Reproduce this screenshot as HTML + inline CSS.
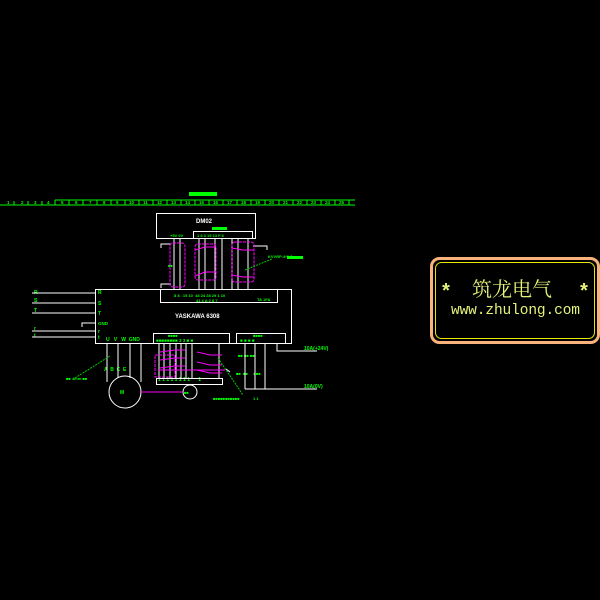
<!DOCTYPE html>
<html><head><meta charset="utf-8"><style>
html,body{margin:0;padding:0;background:#000;width:600px;height:600px;overflow:hidden}
svg{display:block}
text{font-family:"Liberation Sans",sans-serif;font-weight:bold}
</style></head><body>
<svg width="600" height="600" viewBox="0 0 600 600" xmlns="http://www.w3.org/2000/svg">
<rect width="600" height="600" fill="#000"/>
<g stroke="#00ff00" stroke-width="1" fill="none">
<line x1="0" y1="205" x2="355" y2="205"/>
<line x1="55" y1="200" x2="355" y2="200"/>
<line x1="55" y1="200" x2="55" y2="205"/>
<line x1="14" y1="201" x2="14" y2="205"/><line x1="28" y1="201" x2="28" y2="205"/><line x1="42" y1="201" x2="42" y2="205"/>
</g>
<g stroke="#00ff00" stroke-width="1">
<line x1="69" y1="200" x2="69" y2="205"/><line x1="83" y1="200" x2="83" y2="205"/><line x1="97" y1="200" x2="97" y2="205"/><line x1="111" y1="200" x2="111" y2="205"/><line x1="125" y1="200" x2="125" y2="205"/><line x1="139" y1="200" x2="139" y2="205"/><line x1="153" y1="200" x2="153" y2="205"/><line x1="167" y1="200" x2="167" y2="205"/><line x1="181" y1="200" x2="181" y2="205"/><line x1="195" y1="200" x2="195" y2="205"/><line x1="209" y1="200" x2="209" y2="205"/><line x1="223" y1="200" x2="223" y2="205"/><line x1="237" y1="200" x2="237" y2="205"/><line x1="251" y1="200" x2="251" y2="205"/><line x1="265" y1="200" x2="265" y2="205"/><line x1="279" y1="200" x2="279" y2="205"/><line x1="293" y1="200" x2="293" y2="205"/><line x1="307" y1="200" x2="307" y2="205"/><line x1="321" y1="200" x2="321" y2="205"/><line x1="335" y1="200" x2="335" y2="205"/><line x1="349" y1="200" x2="349" y2="205"/>
</g>
<g fill="#00ff00" font-size="4.5">
<text x="7" y="204">1</text><text x="21" y="204">2</text><text x="34" y="204">3</text><text x="47" y="204">4</text>
<text x="61" y="204">5</text><text x="75" y="204">6</text><text x="89" y="204">7</text><text x="103" y="204">8</text><text x="116" y="204">9</text><text x="129" y="204">10</text><text x="143" y="204">11</text><text x="157" y="204">12</text><text x="171" y="204">13</text><text x="185" y="204">14</text><text x="199" y="204">15</text><text x="213" y="204">16</text><text x="227" y="204">17</text><text x="241" y="204">18</text><text x="255" y="204">19</text><text x="269" y="204">20</text><text x="283" y="204">21</text><text x="297" y="204">22</text><text x="311" y="204">23</text><text x="325" y="204">24</text><text x="339" y="204">25</text>
<rect x="189" y="192" width="28" height="4"/>
<text x="268" y="258" font-size="4">KVVRP-4*0.5mm</text>
<rect x="287" y="256" width="16" height="3"/>
<text x="170" y="237" font-size="4">+5V 0V</text>
<rect x="212" y="227" width="15" height="3"/>
<text x="197" y="237" font-size="4">1 8 3 15 13 F 6</text>
<text x="168" y="267" font-size="4">■■</text>
<text x="174" y="297" font-size="4">8 8 &#160;&#160;15 10 &#160;48 24 28 29 1 10</text>
<text x="196" y="302" font-size="4">41 4 A 2 8 7</text>
<text x="257" y="301" font-size="4">TA 1FA</text>
<text x="98" y="294" font-size="5">R</text><text x="98" y="305" font-size="5">S</text><text x="98" y="315" font-size="5">T</text><text x="98" y="325" font-size="4.5">GND</text><text x="98" y="333" font-size="5">r</text><text x="98" y="339" font-size="5">t</text>
<text x="34" y="294" font-size="5">R</text><text x="34" y="302" font-size="5">S</text><text x="34" y="312" font-size="5">T</text><text x="34" y="330" font-size="5">r</text><text x="34" y="337" font-size="5">t</text>
<text x="106" y="341" font-size="5">U &#160;&#160;V &#160;&#160;W &#160;GND</text>
<text x="156" y="342" font-size="4.5">■■■■■■■■ 3 3 ■ ■</text>
<text x="168" y="337" font-size="4">■■■■</text>
<text x="240" y="342" font-size="4.5">■ ■ ■ ■</text>
<text x="253" y="337" font-size="4">■■■■</text>
<text x="104" y="371" font-size="5">A &#160;B &#160;C &#160;E</text>
<text x="66" y="380" font-size="4">■■ 4mm ■■</text>
<text x="120" y="394" font-size="5">M</text>
<text x="184" y="394" font-size="4">■■</text>
<text x="158" y="381" font-size="5">1 1 1 1 1 1 1 1 &#160;&#160;&#160;&#160;&#160;1</text>
<text x="213" y="400" font-size="4">■■■■■■■■■■■</text>
<text x="238" y="357" font-size="4">■■ ■■ ■■</text>
<text x="236" y="375" font-size="4">■■ &#160;■■ &#160;&#160;&#160;&#160;■■■</text>
<text x="304" y="350" font-size="5">10A(+24V)</text>
<text x="304" y="388" font-size="5">10A(0V)</text>
<text x="253" y="400" font-size="4">1 1</text>
</g>
<text x="196" y="223" font-size="6" fill="#fff">DM02</text>
<text x="175" y="318" font-size="6" fill="#fff">YASKAWA 6308</text>
<g stroke="#fff" stroke-width="1" fill="none">
<rect x="156.5" y="213.5" width="99" height="25"/>
<rect x="193.5" y="231.5" width="59" height="7"/>
<rect x="95.5" y="289.5" width="196" height="54"/>
<rect x="160.5" y="289.5" width="117" height="13"/>
<rect x="153.5" y="333.5" width="76" height="10"/>
<rect x="236.5" y="333.5" width="49" height="10"/>
<line x1="32" y1="293" x2="95" y2="293"/><line x1="32" y1="303" x2="95" y2="303"/><line x1="32" y1="313" x2="95" y2="313"/><line x1="32" y1="331" x2="95" y2="331"/><line x1="32" y1="337" x2="95" y2="337"/>
<polyline points="95,323 82,323 82,327"/>
<line x1="174" y1="239" x2="174" y2="289"/><line x1="180" y1="239" x2="180" y2="289"/>
<line x1="199" y1="239" x2="199" y2="289"/><line x1="205" y1="239" x2="205" y2="289"/><line x1="215" y1="239" x2="215" y2="289"/><line x1="222" y1="239" x2="222" y2="289"/><line x1="232" y1="239" x2="232" y2="289"/><line x1="238" y1="239" x2="238" y2="289"/><line x1="248" y1="239" x2="248" y2="289"/>
<polyline points="171,244 161,244 161,248"/><polyline points="253,246 267,246 267,250"/><polyline points="171,284 161,284 161,288"/>
<line x1="107" y1="343" x2="107" y2="382"/><line x1="118" y1="343" x2="118" y2="378"/><line x1="130" y1="343" x2="130" y2="378"/><line x1="141" y1="343" x2="141" y2="382"/>
<circle cx="125" cy="392" r="16"/>
<circle cx="190" cy="392" r="7"/>
<rect x="156.5" y="378.5" width="66" height="6"/>
<line x1="159" y1="343" x2="159" y2="378"/><line x1="164" y1="343" x2="164" y2="378"/><line x1="170" y1="343" x2="170" y2="378"/><line x1="176" y1="343" x2="176" y2="378"/><line x1="181" y1="343" x2="181" y2="378"/><line x1="186" y1="343" x2="186" y2="378"/><line x1="192" y1="343" x2="192" y2="378"/><line x1="219" y1="343" x2="219" y2="378"/>
<polyline points="277,343 277,351 317,351"/>
<line x1="245" y1="343" x2="245" y2="389"/><line x1="255" y1="343" x2="255" y2="389"/><line x1="265" y1="343" x2="265" y2="389"/>
<line x1="245" y1="389" x2="317" y2="389"/>
<polyline points="226,369 230,372"/>
</g>
<g stroke="#ff00ff" stroke-width="1" fill="none" stroke-dasharray="3,1">
<rect x="170" y="243" width="15" height="44" rx="3"/>
<rect x="195" y="244" width="21" height="36" rx="3"/>
<rect x="232" y="242" width="22" height="40" rx="3"/>
<rect x="155" y="355" width="20" height="22"/>
</g>
<g stroke="#ff00ff" stroke-width="1" fill="none">
<polyline points="195,250 205,247 216,247"/><polyline points="195,276 205,272 216,272"/>
<polyline points="232,248 243,250 254,250"/><polyline points="232,275 243,277 254,277"/>
<line x1="141" y1="392" x2="183" y2="392"/>
<polyline points="160,352 175,350 185,350"/><polyline points="160,360 175,358 185,358"/><polyline points="160,368 175,366 185,366"/>
<polyline points="197,352 210,355 222,355"/><polyline points="197,362 210,365 222,365"/><polyline points="197,370 210,373 222,373"/>
<line x1="158" y1="370" x2="225" y2="370"/>
</g>
<g stroke="#00cc00" stroke-width="1" stroke-dasharray="2,1" fill="none">
<line x1="245" y1="270" x2="272" y2="259"/>
<line x1="75" y1="378" x2="110" y2="356"/>
<line x1="218" y1="358" x2="243" y2="395"/>
</g>
<rect x="431.5" y="258.5" width="167" height="84" rx="8" fill="none" stroke="#f9b27c" stroke-width="3"/>
<rect x="435.5" y="262.5" width="159" height="76" rx="6" fill="none" stroke="#e6e600" stroke-width="1"/>
<g fill="#e6f27a">
<text x="440" y="298" style="font-family:'Liberation Mono',monospace;font-size:20px;font-weight:bold">*</text>
<text x="578" y="298" style="font-family:'Liberation Mono',monospace;font-size:20px;font-weight:bold">*</text>
<text x="472" y="296" style="font-family:'Liberation Serif','Noto Serif CJK SC',serif;font-size:20px;font-weight:normal">筑龙电气</text>
<text x="451" y="314" textLength="129" style="font-family:'Liberation Mono',monospace;font-size:14.5px;font-weight:normal">www.zhulong.com</text>
</g>
</svg>
</body></html>
